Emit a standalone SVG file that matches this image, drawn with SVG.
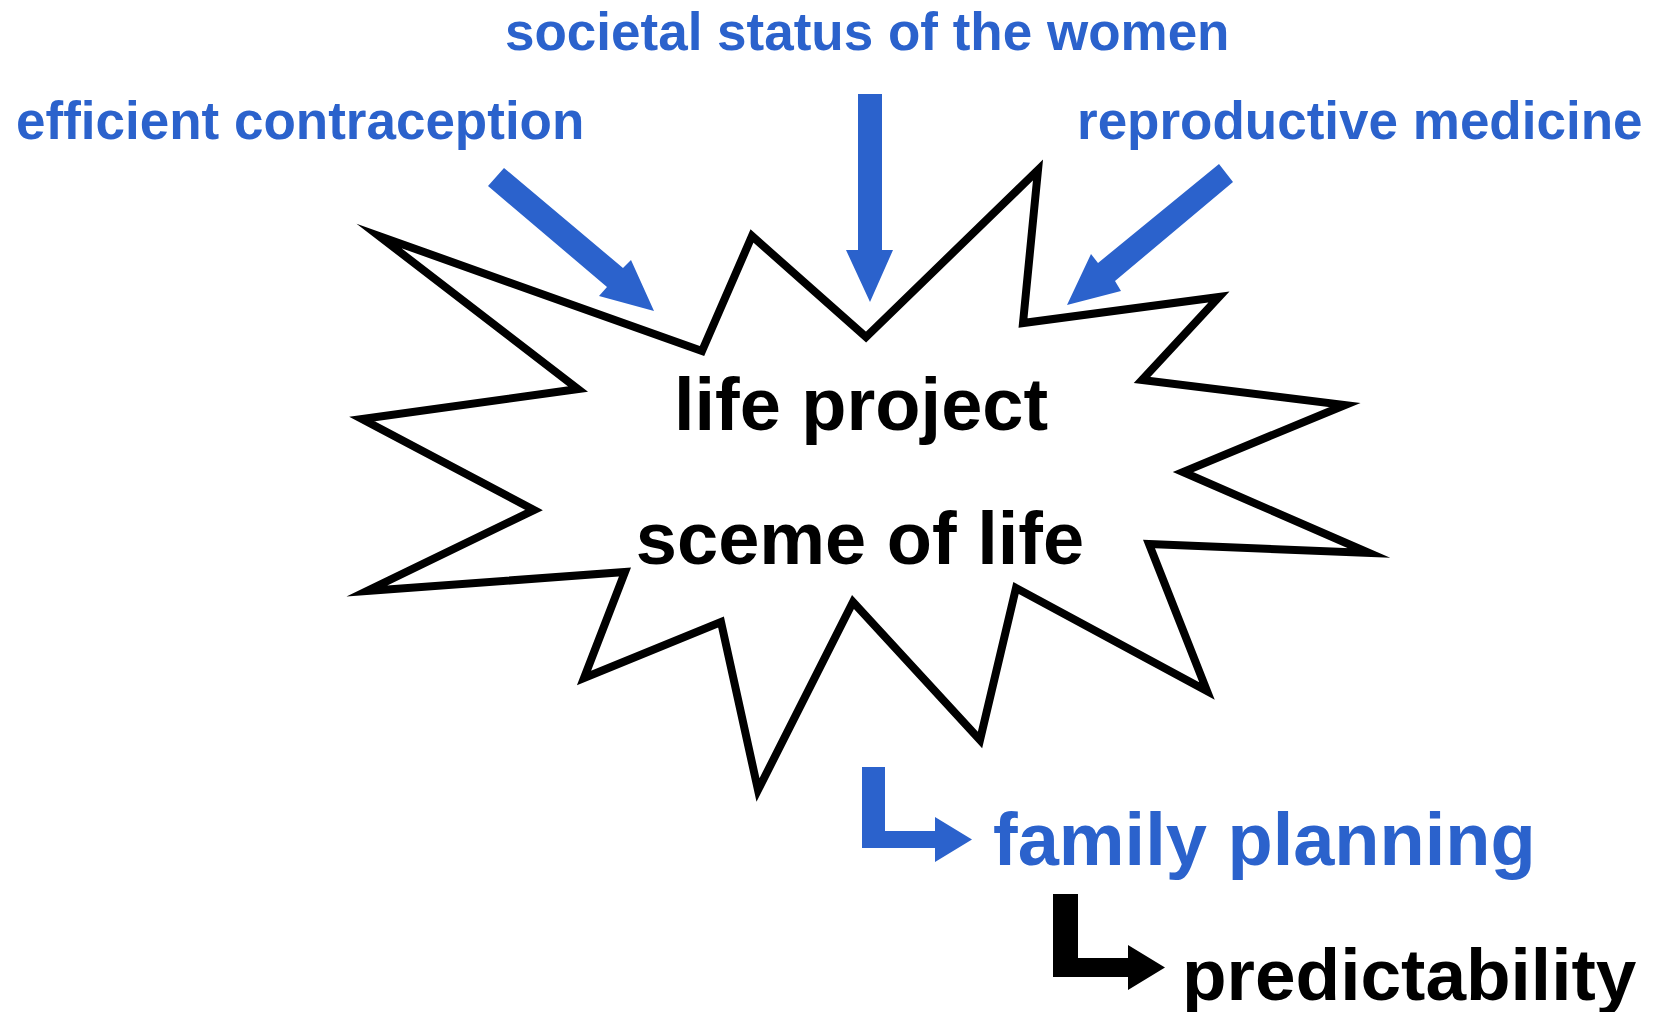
<svg xmlns="http://www.w3.org/2000/svg" width="1656" height="1012" viewBox="0 0 1656 1012">
<style>
.blue{fill:#2b62cc}
.blk{fill:#000}
.lbl{font-family:"Liberation Sans",Arial,sans-serif;font-weight:bold}
.star{fill:#fff;stroke:#000;stroke-width:8;stroke-linejoin:miter;stroke-miterlimit:30}
</style>
<rect width="1656" height="1012" fill="#fff"/>
<g id="star-node">
<polygon class="star" points="379,236 702,351 752,236 866,337 1038,170 1023,323 1219,297 1142,380 1345,405 1183,472 1369,553 1149,544 1207,691 1016,588 980,740 853,602 758,790 721,622 584,678 625,572 367,591 534,510 362,419 578,389"/>
<text class="lbl" x="861" y="430" font-size="74" text-anchor="middle" fill="#000">life project</text>
<text class="lbl" x="860" y="564" font-size="74" text-anchor="middle" fill="#000">sceme of life</text>
</g>
<g id="label-contraception"><text class="lbl" x="16" y="139" font-size="53" fill="#2b62cc">efficient contraception</text></g>
<g id="label-societal"><text class="lbl" x="505" y="50" font-size="53" fill="#2b62cc">societal status of the women</text></g>
<g id="label-medicine"><text class="lbl" x="1077" y="139" font-size="53" fill="#2b62cc">reproductive medicine</text></g>
<g id="label-family"><text class="lbl" x="993" y="865" font-size="74" fill="#2b62cc">family planning</text></g>
<g id="label-predict"><text class="lbl" x="1182" y="1000" font-size="73" fill="#000">predictability</text></g>
<g id="connectors">
<polygon class="blue" points="504,168 623,268 631,260 654,311 599,296 607,287 488,186"/>
<polygon class="blue" points="858,94 882,94 882,250 893,250 870,302 846,250 858,250"/>
<polygon class="blue" points="1219,164 1233,182 1115,281 1121,291 1067,305 1091,254 1098,263"/>
<polygon class="blue" points="862,767 885,767 885,831 935,831 935,817 972,839.5 935,862 935,848 862,848"/>
<polygon class="blk" points="1053,894 1078,894 1078,958 1128,958 1128,945 1165,967.5 1128,990 1128,977 1053,977"/>
</g>
</svg>
